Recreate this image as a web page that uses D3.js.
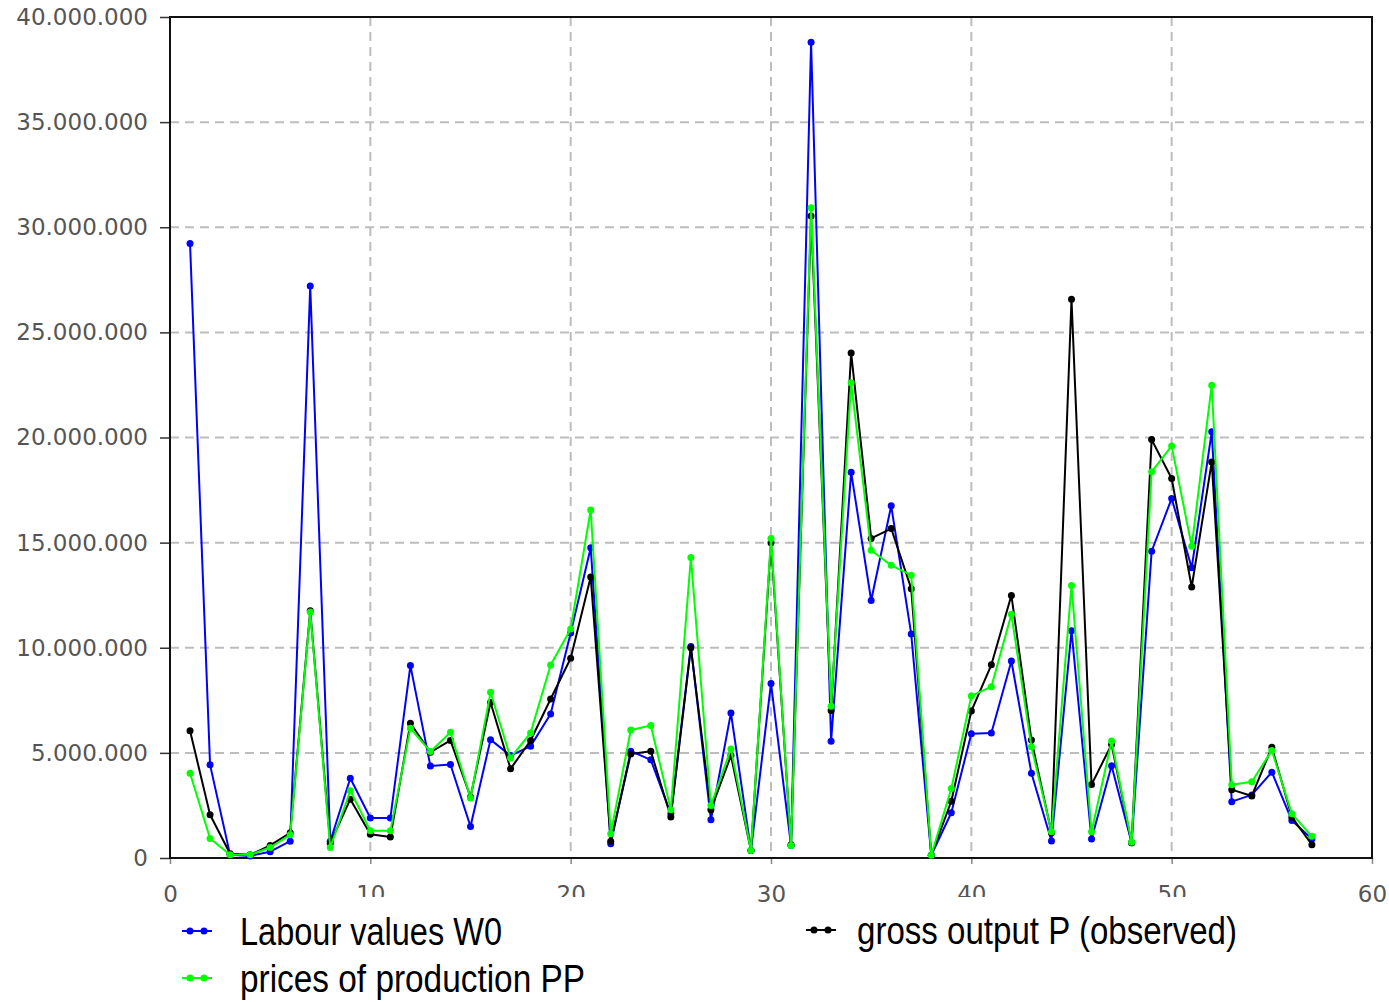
<!DOCTYPE html>
<html>
<head>
<meta charset="utf-8">
<script src="https://cdn.jsdelivr.net/npm/d3@7"></script>
<style>
  html, body { margin: 0; padding: 0; background: #fff; }
  svg { display: block; }
</style>
</head>
<body>
<svg id="chart" width="1389" height="1002"></svg>
<script>
const xIndex = d3.range(1, 58);
const labourValues = [29.23, 4.43, 0.15, 0.1, 0.3, 0.8, 27.2, 0.8, 3.79, 1.9, 1.9, 9.15, 4.37, 4.45, 1.5, 5.63, 4.87, 5.32, 6.85, 10.7, 14.76, 0.68, 5.08, 4.67, 2.1, 10.06, 1.82, 6.9, 0.36, 8.3, 0.6, 38.8, 5.55, 18.35, 12.25, 16.75, 10.65, 0.13, 2.15, 5.91, 5.95, 9.37, 4.03, 0.81, 10.81, 0.9, 4.39, 0.72, 14.59, 17.1, 13.8, 20.27, 2.68, 3.0, 4.08, 1.78, 0.9];
const pricesOfProduction = [4.03, 0.93, 0.15, 0.15, 0.5, 1.1, 11.7, 0.5, 3.2, 1.3, 1.3, 6.17, 5.06, 5.98, 2.85, 7.88, 4.76, 5.95, 9.18, 10.89, 16.55, 1.15, 6.09, 6.3, 2.3, 14.29, 2.5, 5.19, 0.36, 15.2, 0.6, 30.93, 7.22, 22.6, 14.64, 13.92, 13.45, 0.13, 3.3, 7.71, 8.15, 11.59, 5.29, 1.25, 12.96, 1.25, 5.56, 0.75, 18.37, 19.6, 14.83, 22.49, 3.48, 3.63, 5.11, 2.1, 1.03];
const grossOutput = [6.05, 2.06, 0.2, 0.15, 0.6, 1.2, 11.76, 0.7, 2.8, 1.13, 1.0, 6.41, 5.03, 5.59, 2.9, 7.4, 4.24, 5.59, 7.56, 9.5, 13.37, 0.8, 4.95, 5.08, 1.95, 10.0, 2.3, 4.87, 0.36, 15.0, 0.63, 30.54, 7.01, 24.02, 15.2, 15.67, 12.81, 0.13, 2.7, 6.99, 9.19, 12.49, 5.61, 1.2, 26.58, 3.49, 5.4, 0.72, 19.9, 18.05, 12.89, 18.84, 3.25, 2.95, 5.27, 1.94, 0.63];
const yTicks = [0, 5000000, 10000000, 15000000, 20000000, 25000000, 30000000, 35000000, 40000000];
const xTicks = [0, 10, 20, 30, 40, 50, 60];
const seriesNames = ["Labour values W0", "prices of production PP", "gross output P (observed)"];
const seriesColors = ["#0000ff", "#00ff00", "#000000"];

const svg = d3.select("#chart");
const pLeft = 170, pRight = 1372, pTop = 17, pBottom = 858;
const x = d3.scaleLinear().domain([0, 60]).range([pLeft, pRight]);
const y = d3.scaleLinear().domain([0, 40000000]).range([pBottom, pTop]);
const fmt = v => d3.format(",")(v).replace(/,/g, ".");

// grid
svg.append("g").selectAll("line").data(yTicks.slice(1, -1)).join("line")
  .attr("x1", pLeft).attr("x2", pRight).attr("y1", d => y(d)).attr("y2", d => y(d))
  .attr("stroke", "#bdbdbd").attr("stroke-width", 2).attr("stroke-dasharray", "9,6");
svg.append("g").selectAll("line").data(xTicks.slice(1, -1)).join("line")
  .attr("y1", pTop).attr("y2", pBottom).attr("x1", d => x(d)).attr("x2", d => x(d))
  .attr("stroke", "#bdbdbd").attr("stroke-width", 2).attr("stroke-dasharray", "9,6");

// axes
const yAxis = svg.append("g").attr("transform", `translate(${pLeft},0)`)
  .call(d3.axisLeft(y).tickValues(yTicks).tickFormat(fmt).tickSize(10).tickPadding(12));
yAxis.select(".domain").remove();
yAxis.selectAll("line").attr("stroke", "#333").attr("stroke-width", 1.5);
yAxis.selectAll("text").attr("font-family", "DejaVu Sans, sans-serif").attr("font-size", 23).attr("fill", "#555");

const xAxis = svg.append("g").attr("transform", `translate(0,${pBottom})`)
  .call(d3.axisBottom(x).tickValues(xTicks).tickFormat(d3.format("d")).tickSize(6).tickPadding(22));
xAxis.select(".domain").remove();
xAxis.selectAll("line").attr("stroke", "#888").attr("stroke-width", 1.5);
xAxis.selectAll("text").attr("font-family", "DejaVu Sans, sans-serif").attr("font-size", 23).attr("fill", "#555");

// frame
svg.append("rect").attr("x", pLeft).attr("y", pTop).attr("width", pRight - pLeft).attr("height", pBottom - pTop)
  .attr("fill", "none").attr("stroke", "#111").attr("stroke-width", 2);

// series
const seriesData = [labourValues, grossOutput, pricesOfProduction];
const seriesCol = [seriesColors[0], seriesColors[2], seriesColors[1]];
const line = d3.line().x((d, i) => x(xIndex[i])).y(d => y(d * 1e6));
seriesData.forEach((vals, k) => {
  const g = svg.append("g");
  g.append("path").datum(vals).attr("d", line).attr("fill", "none")
    .attr("stroke", seriesCol[k]).attr("stroke-width", 2).attr("stroke-linejoin", "round");
  g.selectAll("circle").data(vals).join("circle")
    .attr("cx", (d, i) => x(xIndex[i])).attr("cy", d => y(d * 1e6)).attr("r", 3.5)
    .attr("fill", seriesCol[k]);
});

// legend backgrounds (cover part of the x tick labels like the original)
svg.append("rect").attr("x", 178).attr("y", 897).attr("width", 580).attr("height", 105).attr("fill", "#fff");
svg.append("rect").attr("x", 790).attr("y", 897).attr("width", 500).attr("height", 105).attr("fill", "#fff");

const legendItems = [
  {name: seriesNames[0], color: seriesColors[0], lx: 182, ly: 931, tx: 240, w: 262},
  {name: seriesNames[1], color: seriesColors[1], lx: 182, ly: 978, tx: 240, w: 345},
  {name: seriesNames[2], color: seriesColors[2], lx: 806, ly: 930, tx: 857, w: 380}
];
const lg = svg.append("g").selectAll("g").data(legendItems).join("g");
lg.append("line").attr("x1", d => d.lx).attr("x2", d => d.lx + 30).attr("y1", d => d.ly).attr("y2", d => d.ly)
  .attr("stroke", d => d.color).attr("stroke-width", 2);
lg.append("circle").attr("cx", d => d.lx + 8).attr("cy", d => d.ly).attr("r", 3.5).attr("fill", d => d.color);
lg.append("circle").attr("cx", d => d.lx + 22).attr("cy", d => d.ly).attr("r", 3.5).attr("fill", d => d.color);
lg.append("text").attr("x", d => d.tx).attr("y", d => d.ly + 14).text(d => d.name)
  .attr("font-family", "Liberation Sans, Arial, sans-serif")
  .attr("textLength", d => d.w).attr("lengthAdjust", "spacingAndGlyphs")
  .attr("font-size", 38).attr("fill", "#000");
</script>
</body>
</html>
